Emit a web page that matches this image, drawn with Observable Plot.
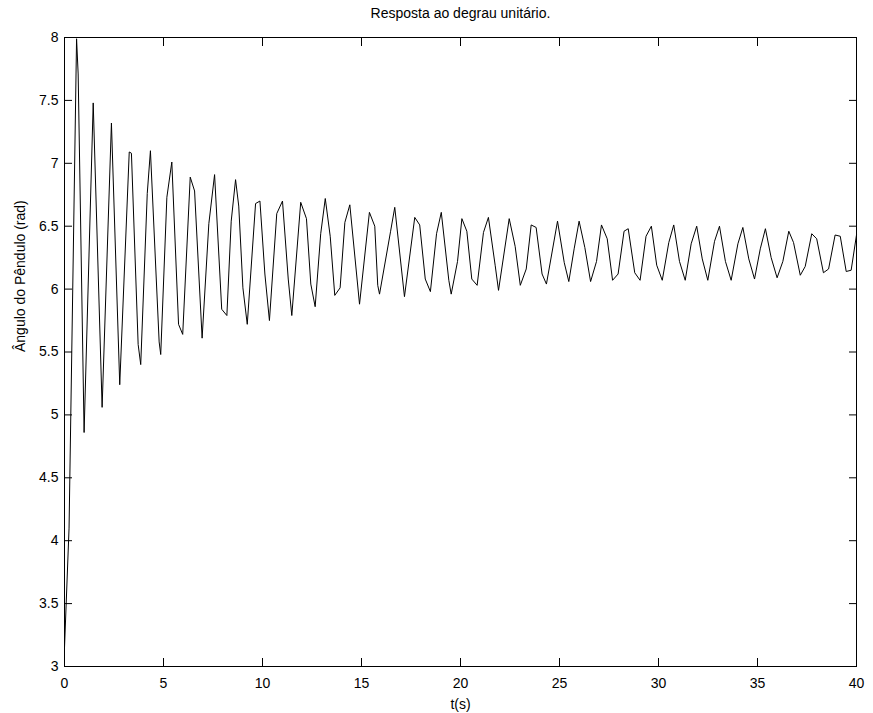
<!DOCTYPE html>
<html>
<head>
<meta charset="utf-8">
<script src="https://cdn.jsdelivr.net/npm/d3@7"></script>
<script src="https://cdn.jsdelivr.net/npm/@observablehq/plot@0.6"></script>
<style>
  html, body { margin: 0; padding: 0; background: #ffffff; }
  #chart { width: 873px; height: 713px; }
</style>
</head>
<body>
<div id="chart"></div>
<script>
const titleText = "Resposta ao degrau unitário.";
const xLabelText = "t(s)";
const yLabelText = "Ângulo do Pêndulo (rad)";

const xTicks = [0, 5, 10, 15, 20, 25, 30, 35, 40];
const xTickLabels = ["0", "5", "10", "15", "20", "25", "30", "35", "40"];
const yTicks = [3, 3.5, 4, 4.5, 5, 5.5, 6, 6.5, 7, 7.5, 8];
const yTickLabels = ["3", "3.5", "4", "4.5", "5", "5.5", "6", "6.5", "7", "7.5", "8"];

// time (s) of each vertex of the response curve
const tValues = [
  0, 0.23, 0.61, 0.69, 0.99, 1.45, 1.90, 2.37, 2.79, 3.27, 3.38, 3.72, 3.85, 4.18, 4.34, 4.78, 4.86,
  5.17, 5.42, 5.76, 5.97, 6.35, 6.57, 6.95, 7.29, 7.58, 7.94, 8.20, 8.42, 8.64, 8.80, 9.01, 9.23, 9.65, 9.87,
  10.12, 10.35, 10.72, 11.01, 11.30, 11.48, 11.93, 12.22, 12.44, 12.66, 12.94, 13.17, 13.42, 13.65, 13.92, 14.16, 14.41,
  14.90, 15.40, 15.67, 15.82, 15.91, 16.47, 16.68, 17.17, 17.69, 17.94, 18.22, 18.48, 18.79, 19.03, 19.41, 19.53, 19.85,
  20.07, 20.32, 20.57, 20.84, 21.16, 21.41, 21.75, 21.92, 22.46, 22.76, 23.02, 23.32, 23.57, 23.82, 24.12, 24.34, 24.90,
  25.24, 25.47, 25.74, 25.99, 26.28, 26.57, 26.87, 27.12, 27.41, 27.68, 27.96, 28.26, 28.47, 28.80, 29.07, 29.37, 29.64,
  29.91, 30.19, 30.52, 30.77, 31.06, 31.35, 31.65, 31.93, 32.21, 32.49, 32.83, 33.08, 33.38, 33.67, 34.01, 34.26, 34.56,
  34.85, 35.14, 35.40, 35.69, 35.99, 36.28, 36.58, 36.82, 37.16, 37.41, 37.74, 37.99, 38.33, 38.59, 38.92, 39.18, 39.48,
  39.73, 40.00
];

// pendulum angle (rad) at each vertex
const angleValues = [
  3.15, 4.10, 7.99, 7.71, 4.86, 7.48, 5.06, 7.32, 5.24, 7.09, 7.08, 5.56, 5.40, 6.76, 7.10, 5.58, 5.48,
  6.73, 7.01, 5.72, 5.64, 6.89, 6.78, 5.61, 6.52, 6.91, 5.84, 5.79, 6.54, 6.87, 6.66, 6.01, 5.72, 6.68, 6.70,
  6.12, 5.75, 6.60, 6.70, 6.08, 5.79, 6.69, 6.56, 6.04, 5.86, 6.44, 6.72, 6.42, 5.95, 6.01, 6.53, 6.67,
  5.88, 6.61, 6.50, 6.03, 5.96, 6.46, 6.65, 5.94, 6.57, 6.51, 6.08, 5.98, 6.44, 6.61, 6.07, 5.96, 6.22,
  6.56, 6.46, 6.08, 6.03, 6.45, 6.57, 6.19, 5.99, 6.56, 6.34, 6.03, 6.16, 6.51, 6.49, 6.12, 6.04, 6.54,
  6.21, 6.06, 6.32, 6.54, 6.33, 6.06, 6.22, 6.51, 6.40, 6.07, 6.12, 6.46, 6.48, 6.13, 6.07, 6.42, 6.50,
  6.19, 6.07, 6.37, 6.51, 6.22, 6.07, 6.36, 6.50, 6.24, 6.07, 6.38, 6.50, 6.22, 6.07, 6.36, 6.49, 6.24,
  6.08, 6.32, 6.48, 6.25, 6.09, 6.22, 6.46, 6.37, 6.11, 6.18, 6.44, 6.40, 6.13, 6.16, 6.43, 6.42, 6.14,
  6.15, 6.43
];

const series = tValues.map((t, i) => ({t, angle: angleValues[i]}));

const chart = Plot.plot({
  width: 873,
  height: 713,
  marginLeft: 64,
  marginRight: 17,
  marginTop: 37,
  marginBottom: 47,
  style: {
    fontFamily: "'Liberation Sans', Arial, Helvetica, sans-serif",
    fontSize: "14px",
    background: "#ffffff",
    color: "#000000"
  },
  x: {domain: [0, 40]},
  y: {domain: [3, 8]},
  marks: [
    // inward ticks on all four sides (MATLAB style)
    Plot.axisY(yTicks, {anchor: "left", tickSize: 8, dx: 8, fill: "none", label: null}),
    Plot.axisY(yTicks, {anchor: "right", tickSize: 8, dx: -8, fill: "none", label: null}),
    Plot.axisX(xTicks, {anchor: "bottom", tickSize: 8, dy: -8, fill: "none", label: null}),
    Plot.axisX(xTicks, {anchor: "top", tickSize: 8, dy: 8, fill: "none", label: null}),
    // tick labels
    Plot.axisY(yTicks, {anchor: "left", tickSize: 0, tickPadding: 6, label: null,
      tickFormat: d => yTickLabels[yTicks.indexOf(d)]}),
    Plot.axisX(xTicks, {anchor: "bottom", tickSize: 0, tickPadding: 12, label: null,
      tickFormat: d => xTickLabels[xTicks.indexOf(d)]}),
    Plot.frame({stroke: "#000000", strokeWidth: 1}),
    Plot.line(series, {x: "t", y: "angle", stroke: "#000000", strokeWidth: 1}),
    Plot.text([titleText], {frameAnchor: "top", dy: -24, lineAnchor: "middle", fill: "#000000"}),
    Plot.text([xLabelText], {frameAnchor: "bottom", dy: 38, lineAnchor: "middle", fill: "#000000"}),
    Plot.text([yLabelText], {frameAnchor: "left", dx: -44, rotate: -90, lineAnchor: "middle", fill: "#000000"})
  ]
});

document.getElementById("chart").appendChild(chart);
</script>
</body>
</html>
